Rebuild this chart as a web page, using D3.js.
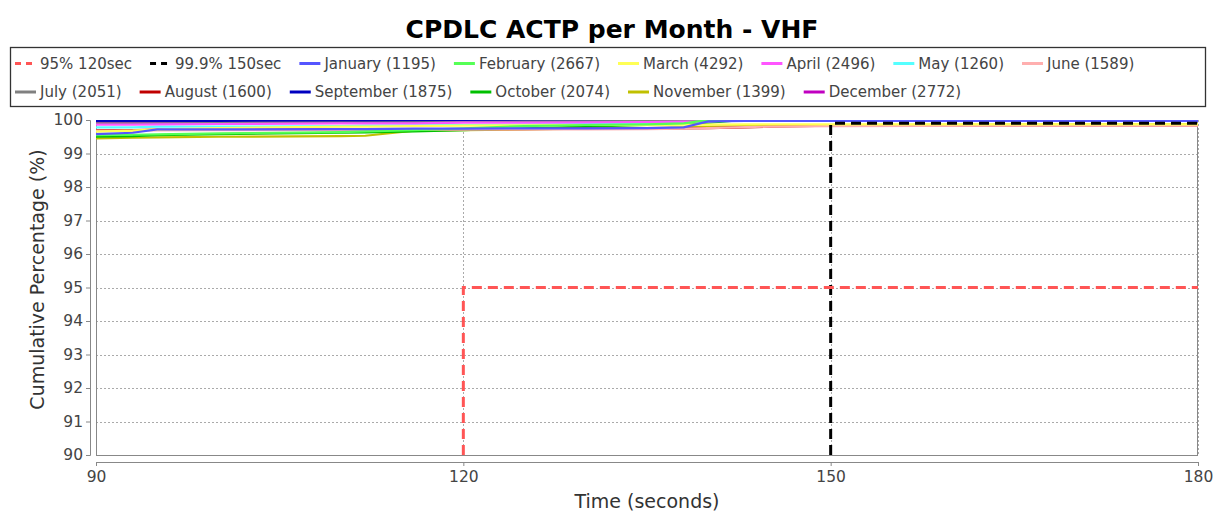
<!DOCTYPE html>
<html><head><meta charset="utf-8">
<script src="https://cdn.jsdelivr.net/npm/d3@7"></script>
<style>body{margin:0;background:#fff}svg{display:block}</style>
</head><body>
<svg id="chart" width="1213" height="511"></svg>
<script>
// ---- data ----
const times     = [90, 93, 95, 100, 110, 112, 116, 120, 125, 130, 135, 138, 140, 143, 145, 150, 165, 180];
const january   = [99.58, 99.62, 99.72, 99.72, 99.73, 99.73, 99.74, 99.74, 99.75, 99.75, 99.76, 99.78, 99.96, 99.97, 99.97, 99.97, 99.97, 99.97];
const february  = [99.55, 99.56, 99.57, 99.60, 99.64, 99.66, 99.70, 99.75, 99.82, 99.85, 99.87, 99.90, 100, 100, 100, 100, 100, 100];
const march     = [99.65, 99.68, 99.72, 99.76, 99.80, 99.80, 99.82, 99.83, 99.84, 99.85, 99.85, 99.86, 99.86, 99.87, 99.87, 99.87, 99.87, 99.87];
const april     = [99.86, 99.86, 99.87, 99.88, 99.90, 99.90, 99.90, 99.92, 99.92, 99.93, 99.94, 99.95, 99.96, 100, 100, 100, 100, 100];
const may       = [99.78, 99.78, 99.80, 99.80, 99.82, 99.83, 99.84, 99.85, 99.86, 99.88, 99.90, 99.92, 99.96, 100, 100, 100, 100, 100];
const june      = [99.68, 99.68, 99.69, 99.70, 99.70, 99.70, 99.71, 99.71, 99.72, 99.72, 99.73, 99.74, 99.76, 99.79, 99.80, 99.82, 99.83, 99.83];
const july      = [99.90, 99.90, 99.90, 99.91, 99.92, 99.92, 99.93, 99.94, 99.95, 99.96, 99.97, 99.98, 100, 100, 100, 100, 100, 100];
const august    = [99.70, 99.70, 99.71, 99.72, 99.72, 99.72, 99.73, 99.73, 99.73, 99.74, 99.74, 99.75, 99.76, 99.78, 99.80, 99.83, 99.84, 99.84];
const september = [99.97, 99.97, 99.97, 99.97, 99.97, 99.97, 99.97, 99.97, 99.97, 99.97, 99.97, 99.97, 100, 100, 100, 100, 100, 100];
const october   = [99.50, 99.52, 99.55, 99.58, 99.62, 99.63, 99.66, 99.70, 99.75, 99.80, 99.85, 99.88, 99.92, 100, 100, 100, 100, 100];
const november  = [99.45, 99.47, 99.48, 99.50, 99.52, 99.53, 99.68, 99.70, 99.72, 99.74, 99.76, 99.78, 99.80, 99.82, 99.83, 99.85, 99.86, 99.87];
const december  = [99.92, 99.92, 99.93, 99.93, 99.94, 99.94, 99.95, 99.95, 99.96, 99.96, 99.97, 99.98, 100, 100, 100, 100, 100, 100];

const monthNames  = ["January","February","March","April","May","June","July","August","September","October","November","December"];
const monthCounts = [1195, 2667, 4292, 2496, 1260, 1589, 2051, 1600, 1875, 2074, 1399, 2772];
const monthValues = [january, february, march, april, may, june, july, august, september, october, november, december];
const monthColors = ["#5555ff","#55ff55","#ffff55","#ff55ff","#55ffff","#ffafaf","#808080","#c00000","#0000c0","#00c000","#c0c000","#c000c0"];

const thr95Label  = "95% 120sec";
const thr95X      = [120, 120, 180];
const thr95Y      = [90, 95, 95];
const thr999Label = "99.9% 150sec";
const thr999X     = [150, 150, 180];
const thr999Y     = [90, 99.9, 99.9];

const xTicks = [90, 120, 150, 180];
const yTicks = [90, 91, 92, 93, 94, 95, 96, 97, 98, 99, 100];

const titleText = "CPDLC ACTP per Month - VHF";
const xLabel = "Time (seconds)";
const yLabel = "Cumulative Percentage (%)";

// ---- drawing ----
const FONT = "'DejaVu Sans', Verdana, sans-serif";
const svg = d3.select("#chart");
svg.append("rect").attr("width",1213).attr("height",511).attr("fill","#fff");

const plot = {left:96, right:1198, top:120, bottom:455};
const x = d3.scaleLinear().domain([90,180]).range([plot.left, plot.right]);
const y = d3.scaleLinear().domain([90,100]).range([plot.bottom, plot.top]);

// title
svg.append("text").attr("x",612).attr("y",38).attr("text-anchor","middle")
  .attr("font-family",FONT).attr("font-weight","bold").attr("font-size",25)
  .attr("fill","#000").text(titleText);

// legend
const legendItems = [
  {label:thr95Label, color:"#ff5555", dash:"6,5"},
  {label:thr999Label, color:"#000000", dash:"6,5"}
].concat(monthNames.map((m,i)=>({label:`${m} (${monthCounts[i]})`, color:monthColors[i], dash:null})));

const lg = svg.append("g");
lg.append("rect").attr("x",10.5).attr("y",47.5).attr("width",1195).attr("height",59)
  .attr("fill","#fff").attr("stroke","#333").attr("stroke-width",1.3);
const rowsY = [63.5, 92];
let cx = 15, row = 0;
const symW = 21, symGap = 4, itemGap = 18, maxX = 1200;
legendItems.forEach((it) => {
  const t = lg.append("text").attr("font-family",FONT).attr("font-size",15).attr("fill","#444")
    .attr("dominant-baseline","central").text(it.label);
  const w = t.node().getComputedTextLength();
  if (cx + symW + symGap + w > maxX) { row++; cx = 15; }
  const yy = rowsY[row];
  t.attr("x", cx + symW + symGap).attr("y", yy);
  const l = lg.append("line").attr("x1",cx).attr("x2",cx+symW).attr("y1",yy).attr("y2",yy)
    .attr("stroke",it.color).attr("stroke-width",3);
  if (it.dash) l.attr("stroke-dasharray",it.dash);
  cx += symW + symGap + w + itemGap;
});

// gridlines
const grid = svg.append("g");
yTicks.forEach(v => {
  grid.append("line").attr("x1",plot.left).attr("x2",plot.right).attr("y1",Math.round(y(v))+0.5).attr("y2",Math.round(y(v))+0.5)
    .attr("stroke", v===90 ? "#555" : "#aaa").attr("stroke-width",1).attr("stroke-dasharray","2,2");
});
xTicks.forEach(v => {
  grid.append("line").attr("y1",plot.top).attr("y2",plot.bottom).attr("x1",Math.round(x(v))+0.5).attr("x2",Math.round(x(v))+0.5)
    .attr("stroke","#aaa").attr("stroke-width",1).attr("stroke-dasharray","2,2");
});

// plot outline
svg.append("rect").attr("x",plot.left+0.5).attr("y",plot.top+0.5).attr("width",plot.right-plot.left-1).attr("height",plot.bottom-plot.top)
  .attr("fill","none").attr("stroke","#888").attr("stroke-width",1);

// clip
svg.append("clipPath").attr("id","clip").append("rect")
  .attr("x",plot.left).attr("y",plot.top).attr("width",plot.right-plot.left).attr("height",plot.bottom-plot.top);

const line = d3.line().x(d=>x(d[0])).y(d=>y(d[1]));
const series = svg.append("g").attr("clip-path","url(#clip)");
for (let i = monthValues.length-1; i >= 0; i--) {
  const pts = times.map((t,j)=>[t, monthValues[i][j]]);
  series.append("path").attr("d",line(pts)).attr("fill","none")
    .attr("stroke",monthColors[i]).attr("stroke-width",2.2);
}
series.append("path").attr("d",line(thr999X.map((t,j)=>[t,thr999Y[j]]))).attr("fill","none")
  .attr("stroke","#000").attr("stroke-width",3).attr("stroke-dasharray","10,6");
series.append("path").attr("d",line(thr95X.map((t,j)=>[t,thr95Y[j]]))).attr("fill","none")
  .attr("stroke","#ff5555").attr("stroke-width",3).attr("stroke-dasharray","10,6");

// axes
const yAxis = d3.axisLeft(y).tickValues(yTicks).tickSize(4).tickPadding(3).tickFormat(d3.format("d"));
const ya = svg.append("g").attr("transform","translate(90,0)").call(yAxis);
const xAxis = d3.axisBottom(x).tickValues(xTicks).tickSize(4).tickPadding(5).tickFormat(d3.format("d"));
const xa = svg.append("g").attr("transform","translate(0,462)").call(xAxis);
[ya, xa].forEach(a => {
  a.select(".domain").attr("stroke","#888");
  a.selectAll(".tick line").attr("stroke","#888");
  a.selectAll(".tick text").attr("font-family",FONT).attr("font-size",15.5).attr("fill","#444");
});

svg.append("text").attr("x",(plot.left+plot.right)/2).attr("y",508).attr("text-anchor","middle")
  .attr("font-family",FONT).attr("font-size",19).attr("fill","#333").text(xLabel);
svg.append("text").attr("transform",`translate(44,${(plot.top+plot.bottom)/2-8}) rotate(-90)`).attr("text-anchor","middle")
  .attr("font-family",FONT).attr("font-size",19).attr("fill","#333").text(yLabel);
</script>
</body></html>
